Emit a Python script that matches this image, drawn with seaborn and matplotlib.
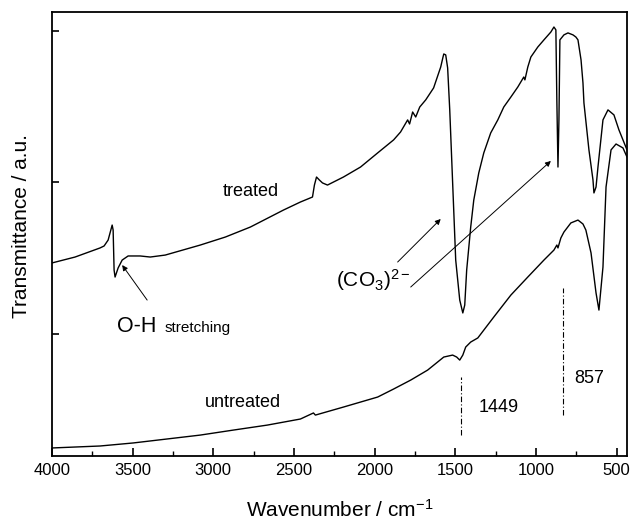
import matplotlib
matplotlib.use("Agg")
import matplotlib.pyplot as plt
import pandas as pd
import seaborn as sns

# ---------------- data ----------------
treated_wn = [4000, 3857, 3702, 3677, 3652, 3627, 3621, 3615, 3609, 3590, 3565, 3528,
              3453, 3391, 3298, 3081, 2925, 2770, 2565, 2460, 2385, 2373, 2360, 2342,
              2323, 2292, 2193, 2087, 1981, 1882, 1839, 1795, 1783, 1764, 1745, 1720,
              1683, 1634, 1590, 1577, 1571, 1559, 1547, 1534, 1497, 1472, 1453, 1441,
              1429, 1404, 1385, 1354, 1323, 1280, 1236, 1199, 1155, 1112, 1075, 1068,
              1050, 1031, 988, 950, 907, 888, 876, 870, 863, 857, 851, 826, 801, 770,
              752, 739, 720, 708, 702, 671, 646, 640, 627, 615, 584, 553, 516, 485, 435]
treated_T = [1.469, 1.508, 1.568, 1.581, 1.620, 1.719, 1.686, 1.422, 1.376, 1.436, 1.488,
             1.515, 1.515, 1.508, 1.521, 1.587, 1.640, 1.706, 1.818, 1.871, 1.904, 1.983,
             2.036, 2.016, 1.997, 1.983, 2.036, 2.102, 2.195, 2.281, 2.333, 2.413, 2.386,
             2.465, 2.432, 2.498, 2.545, 2.624, 2.762, 2.822, 2.848, 2.842, 2.756, 2.479,
             1.488, 1.224, 1.139, 1.191, 1.422, 1.706, 1.884, 2.063, 2.195, 2.327, 2.413,
             2.498, 2.564, 2.630, 2.696, 2.677, 2.762, 2.828, 2.894, 2.941, 2.993, 3.026,
             3.007, 2.545, 2.102, 2.413, 2.941, 2.974, 2.987, 2.974, 2.960, 2.941, 2.809,
             2.657, 2.525, 2.215, 2.017, 1.931, 1.970, 2.102, 2.413, 2.479, 2.446, 2.347,
             2.215]

untreated_wn = [4000, 3702, 3497, 3081, 2876, 2665, 2460, 2379, 2367, 2193, 2087, 1981,
                1882, 1776, 1671, 1571, 1516, 1491, 1472, 1453, 1435, 1404, 1360, 1261,
                1155, 1050, 950, 888, 870, 863, 845, 826, 783, 739, 708, 690, 658, 627,
                609, 584, 565, 534, 503, 460, 435]
untreated_T = [0.248, 0.261, 0.281, 0.333, 0.366, 0.399, 0.439, 0.479, 0.465, 0.518,
               0.551, 0.584, 0.637, 0.696, 0.762, 0.848, 0.861, 0.848, 0.828, 0.861,
               0.914, 0.947, 0.974, 1.112, 1.257, 1.376, 1.488, 1.554, 1.587, 1.568,
               1.634, 1.673, 1.733, 1.752, 1.726, 1.686, 1.535, 1.271, 1.158, 1.442,
               1.970, 2.215, 2.254, 2.228, 2.168]

x_major_ticks = [4000, 3500, 3000, 2500, 2000, 1500, 1000, 500]
x_minor_ticks = [3750, 3250, 2750, 2250, 1750, 1250, 750]
y_ticks = [1, 2, 3]

marker_lines_wn = [1462, 831]
marker_lines_lo = [0.333, 0.465]
marker_lines_hi = [0.716, 1.304]
marker_labels = ["1449", "857"]

# ---------------- style ----------------
sns.set_style("ticks")
plt.rcParams["font.family"] = ["Liberation Sans", "DejaVu Sans"]
plt.rcParams["mathtext.fontset"] = "custom"
plt.rcParams["mathtext.rm"] = "Liberation Sans"
plt.rcParams["mathtext.it"] = "Liberation Sans:italic"
plt.rcParams["mathtext.bf"] = "Liberation Sans:bold"
for key in ["text.color", "axes.labelcolor", "xtick.color", "ytick.color",
            "axes.edgecolor"]:
    plt.rcParams[key] = "black"

fig = plt.figure(figsize=(6.33, 5.21), dpi=100)
ax = fig.add_axes([52 / 633, 65 / 521, 575 / 633, 444 / 521])

df_t = pd.DataFrame({"wn": treated_wn, "T": treated_T})
df_u = pd.DataFrame({"wn": untreated_wn, "T": untreated_T})
sns.lineplot(data=df_t, x="wn", y="T", ax=ax, color="black", lw=1.0,
             sort=False, estimator=None)
sns.lineplot(data=df_u, x="wn", y="T", ax=ax, color="black", lw=1.0,
             sort=False, estimator=None)

ax.set_xlim(4000, 435)
ax.set_ylim(0.195, 3.125)

ax.set_xticks(x_major_ticks)
ax.set_xticks(x_minor_ticks, minor=True)
ax.set_yticks(y_ticks)
ax.set_yticklabels([])
ax.tick_params(axis="x", which="major", direction="in", length=6, width=1.2,
               labelsize=12, pad=5, top=False)
ax.tick_params(axis="x", which="minor", direction="in", length=3.5, width=1.0, top=False)
ax.tick_params(axis="y", which="major", direction="in", length=5, width=1.2,
               right=False)
for s in ax.spines.values():
    s.set_linewidth(1.3)
    s.set_visible(True)

ax.set_xlabel("Wavenumber / cm$^{-1}$", fontsize=15)
ax.set_ylabel("Transmittance / a.u.", fontsize=15)
ax.xaxis.set_label_coords(0.5, -0.097)
ax.yaxis.set_label_coords(-0.037, 0.518)

# ---------------- annotations ----------------
ax.text(2770, 1.911, "treated", fontsize=13, ha="center", va="baseline")
ax.text(2814, 0.518, "untreated", fontsize=13, ha="center", va="baseline")

ax.text(3596, 1.013, "O-H", fontsize=15.5, ha="left", va="baseline")
ax.text(3300, 1.013, "stretching", fontsize=11, ha="left", va="baseline")
ax.annotate("", xy=(3565, 1.455), xytext=(3410, 1.224),
            arrowprops=dict(arrowstyle="-|>", lw=0.7, color="black",
                            mutation_scale=8, shrinkA=0, shrinkB=0))

ax.text(2242, 1.310, r"(CO$_3$)$^{2-}$", fontsize=15, ha="left", va="baseline")
ax.annotate("", xy=(1590, 1.759), xytext=(1857, 1.475),
            arrowprops=dict(arrowstyle="-|>", lw=0.7, color="black",
                            mutation_scale=8, shrinkA=0, shrinkB=0))
ax.annotate("", xy=(907, 2.142), xytext=(1776, 1.310),
            arrowprops=dict(arrowstyle="-|>", lw=0.7, color="black",
                            mutation_scale=8, shrinkA=0, shrinkB=0))

for wn, lo, hi in zip(marker_lines_wn, marker_lines_lo, marker_lines_hi):
    ax.plot([wn, wn], [lo, hi], color="black", lw=0.8,
            linestyle=(0, (5, 2, 1, 2)))
ax.text(1354, 0.485, marker_labels[0], fontsize=13, ha="left", va="baseline")
ax.text(764, 0.677, marker_labels[1], fontsize=13, ha="left", va="baseline")

fig.savefig("out.png", dpi=100)
